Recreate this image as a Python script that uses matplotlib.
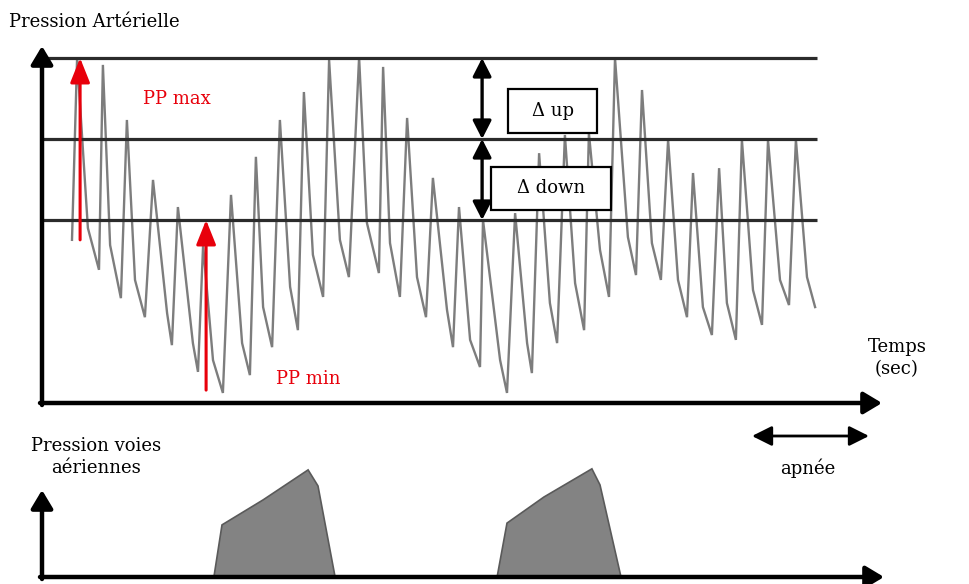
import numpy as np
import matplotlib.pyplot as plt
from matplotlib.patches import Rectangle

W, H = 969, 584

# pression artérielle (mmHg) : début, pics systoliques, incisures, creux diastoliques
t_start, p_start = 1.00, 85.1
peak_t = [1.17, 2.03, 2.83, 3.70, 4.53, 5.37, 6.30, 7.13, 7.93, 8.73,
          9.57, 10.57, 11.37, 12.17, 13.03, 13.90, 14.70, 15.77, 16.57, 17.43,
          18.23, 19.10, 20.00, 20.87, 21.70, 22.57, 23.33, 24.20, 25.13]
peak_p = [130.0, 128.3, 114.7, 99.9, 93.2, 83.8, 96.2, 105.6, 114.7, 121.6,
          129.5, 130.2, 127.8, 115.2, 100.4, 93.2, 90.0, 91.7, 106.5, 111.0,
          111.5, 130.0, 122.1, 109.8, 101.6, 102.8, 109.8, 109.8, 109.8]
notch_t = [1.53, 2.27, 3.10, 4.17, 5.03, 5.70, 6.67, 7.37, 8.27, 9.03,
           9.93, 10.83, 11.60, 12.50, 13.50, 14.27, 15.27, 16.17, 16.93, 17.77,
           18.60, 19.53, 20.33, 21.20, 22.03, 22.83, 23.70, 24.60, 25.50]
notch_p = [88.0, 83.8, 75.2, 67.0, 59.6, 55.4, 59.6, 68.5, 73.5, 81.4,
           85.1, 89.3, 84.3, 75.9, 67.8, 60.4, 55.4, 59.6, 69.5, 74.4,
           82.6, 85.8, 84.3, 75.2, 68.5, 69.5, 72.7, 75.2, 75.9]
trough_t = [1.90, 2.63, 3.43, 4.33, 5.20, 6.03, 6.93, 7.67, 8.53, 9.37,
            10.23, 11.23, 11.93, 12.80, 13.70, 14.60, 15.50, 16.33, 17.17, 18.07,
            18.90, 19.80, 20.63, 21.50, 22.33, 23.13, 24.00, 24.90, 25.77]
trough_p = [77.7, 70.7, 66.0, 59.1, 52.5, 47.3, 51.7, 58.6, 62.8, 71.0,
            75.9, 76.9, 71.0, 66.0, 58.6, 53.7, 47.3, 52.2, 59.6, 62.8,
            71.0, 76.4, 75.2, 66.0, 61.6, 60.4, 64.1, 69.0, 68.5]

ref_levels = [130, 110, 90]      # niveaux PP max / moyen / min
t_ref_end = 25.83

# pression voies aériennes (cmH2O) : deux insufflations
insuf1_t = [5.73, 6.00, 7.37, 8.87, 9.20, 9.77]
insuf1_p = [0, 14.6, 21.6, 30.0, 25.5, 0]
insuf2_t = [15.17, 15.50, 16.73, 18.33, 18.60, 19.30]
insuf2_p = [0, 15.1, 22.4, 30.3, 25.8, 0]

plt.rcParams['font.family'] = ['DejaVu Serif']

fig = plt.figure(figsize=(W / 100, H / 100), dpi=100)

ax1 = fig.add_axes([0, 0, 1, 1])
ax1.set_xlim(-42 / 30, (W - 42) / 30)
ax1.set_ylim(130 - (H - 58) * 20 / 81, 130 + 58 * 20 / 81)
ax1.axis('off')

ax2 = fig.add_axes([0, 0, 1, 1], sharex=ax1)
ax2.set_ylim(-(H - 577) / 3.57, 577 / 3.57)
ax2.patch.set_alpha(0)
ax2.axis('off')

# tracé de pression artérielle
wt, wp = [t_start], [p_start]
for i in range(len(peak_t)):
    wt += [peak_t[i], notch_t[i], trough_t[i]]
    wp += [peak_p[i], notch_p[i], trough_p[i]]
ax1.plot(wt, wp, color='#7d7d7d', lw=1.7, solid_joinstyle='miter')

ax1.hlines(ref_levels, 0, t_ref_end, color='#2b2b2b', lw=2.3)

# flèches PP
red = dict(arrowstyle='-|>,head_length=0.75,head_width=0.3', color='#e8000b',
           lw=2.2, mutation_scale=20, shrinkA=0, shrinkB=0)
ax1.annotate('', xy=(peak_t[0] + 0.1, ref_levels[0]), xytext=(peak_t[0] + 0.1, p_start),
             arrowprops=red)
ax1.annotate('', xy=(5.47, ref_levels[2]), xytext=(5.47, 48.0), arrowprops=red)

blk = dict(arrowstyle='<|-|>,head_length=0.55,head_width=0.28', color='black',
           lw=2.4, mutation_scale=20, shrinkA=0, shrinkB=0)
ax1.annotate('', xy=(14.67, ref_levels[0]), xytext=(14.67, ref_levels[1]), arrowprops=blk)
ax1.annotate('', xy=(14.67, ref_levels[1]), xytext=(14.67, ref_levels[2]), arrowprops=blk)

# insufflations
for tt, pp in [(insuf1_t, insuf1_p), (insuf2_t, insuf2_p)]:
    ax2.fill(tt, pp, facecolor='#838383', edgecolor='#5a5a5a', lw=1.2)


def fp(x, y):
    return (x / W, 1 - y / H)


axis_arrow = dict(arrowstyle='-|>,head_length=0.55,head_width=0.33', color='black',
                  lw=3.2, mutation_scale=20, shrinkA=0, shrinkB=0)
for a, b in [((42, 405), (42, 46)), ((40, 403), (882, 403)),
             ((42, 579), (42, 490)), ((40, 577), (884, 577))]:
    fig.add_artist(plt.Annotation('', xy=fp(*b), xytext=fp(*a), xycoords='figure fraction',
                                  textcoords='figure fraction', arrowprops=axis_arrow))
apnee = dict(arrowstyle='<|-|>,head_length=0.6,head_width=0.3', color='black',
             lw=2.0, mutation_scale=20, shrinkA=0, shrinkB=0)
fig.add_artist(plt.Annotation('', xy=fp(869, 436), xytext=fp(752, 436), xycoords='figure fraction',
                              textcoords='figure fraction', arrowprops=apnee))

fs = 13
fig.text(*fp(9, 22), 'Pression Artérielle', fontsize=fs, va='center', ha='left')
fig.text(*fp(143, 99), 'PP max', fontsize=fs, color='#e8000b', va='center', ha='left')
fig.text(*fp(276, 379), 'PP min', fontsize=fs, color='#e8000b', va='center', ha='left')
fig.text(*fp(897, 358), 'Temps\n(sec)', fontsize=fs, va='center', ha='center', linespacing=1.3)
fig.text(*fp(96, 457), 'Pression voies\naériennes', fontsize=fs, va='center', ha='center',
         linespacing=1.3)
fig.text(*fp(808, 468), 'apnée', fontsize=fs, va='center', ha='center')

for (x0, y0, x1, y1), label in [((508, 89, 597, 133), 'Δ up'), ((491, 167, 611, 210), 'Δ down')]:
    fig.add_artist(Rectangle(fp(x0, y1), (x1 - x0) / W, (y1 - y0) / H, transform=fig.transFigure,
                             facecolor='white', edgecolor='black', lw=1.6, zorder=5))
    fig.text(*fp((x0 + x1) / 2, (y0 + y1) / 2), label, fontsize=fs, va='center', ha='center',
             zorder=6)

fig.savefig('out.png', dpi=100)
